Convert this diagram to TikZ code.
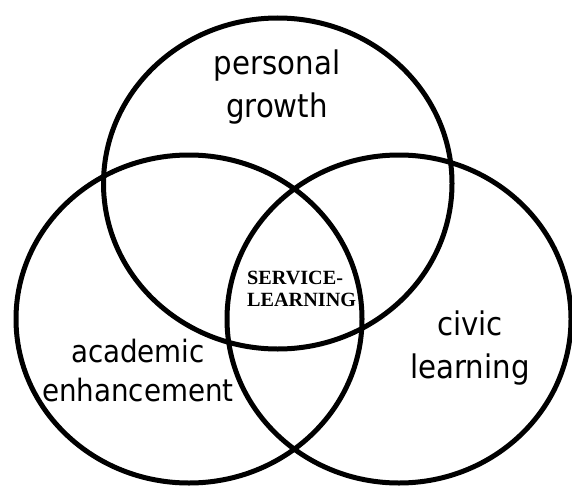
\documentclass[tikz,border=0pt]{standalone}
\usepackage{fontspec}
\setmainfont{Liberation Serif}
\newfontfamily\labelfont{DejaVu Sans Condensed}
\usetikzlibrary{shapes.geometric}
\tikzset{
  set/.style={draw=black, line width=5pt, ellipse, inner sep=0pt, fill=none},
  biglabel/.style={font=\labelfont\fontsize{32.5}{43}\selectfont, align=center, inner sep=0pt, text=black},
  corelabel/.style={font=\bfseries\fontsize{20.2}{22}\selectfont, align=left, inner sep=0pt, text=black}
}
\begin{document}
\begin{tikzpicture}[x=1pt,y=-1pt]
\useasboundingbox (0,0) rectangle (572,487);
\node[set, minimum width=348.5pt, minimum height=331pt] (growth) at (277.75,183.5) {};
\node[set, minimum width=346pt, minimum height=328pt] (academic) at (189,319) {};
\node[set, minimum width=344pt, minimum height=328pt] (civic) at (399,319) {};
\node[biglabel] (pg) at (277,87) {personal\\growth};
\node[biglabel, font=\labelfont\fontsize{30.8}{39}\selectfont] (ae) at (138,371) {academic\\enhancement};
\node[biglabel] (cl) at (470,348) {civic\\learning};
\node[corelabel, anchor=north west] (sl) at (247,271) {SERVICE-\\LEARNING};
\end{tikzpicture}
\end{document}
